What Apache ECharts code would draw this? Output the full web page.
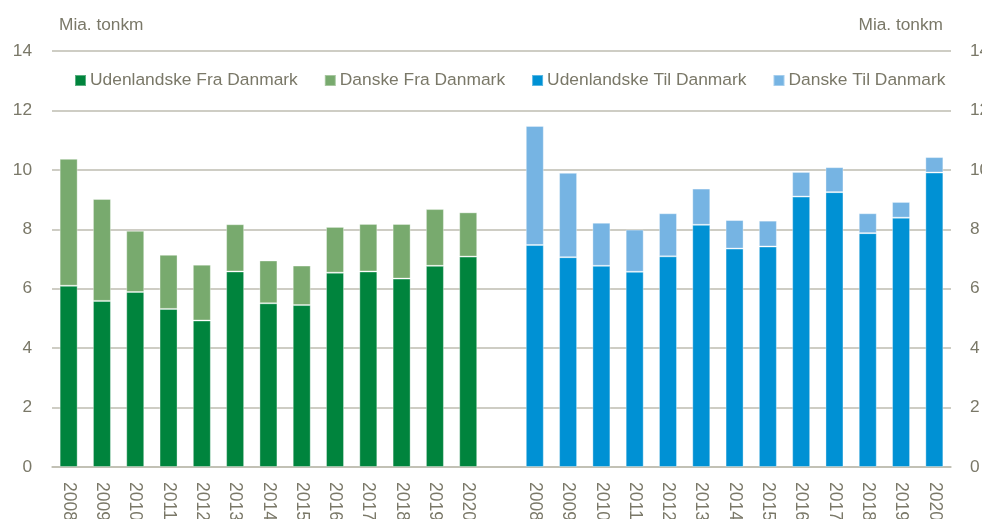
<!DOCTYPE html>
<html>
<head>
<meta charset="utf-8">
<script src="https://cdn.jsdelivr.net/npm/echarts@6/dist/echarts.min.js"></script>
<style>html,body{margin:0;padding:0;background:#fff;}#c{width:982px;height:519px;}</style>
</head>
<body>
<div id="c"></div>
<script>
const years = ['2008','2009','2010','2011','2012','2013','2014','2015','2016','2017','2018','2019','2020'];
// Fra Danmark (green)
const udenlandskeFra = [6.10, 5.59, 5.89, 5.32, 4.93, 6.58, 5.51, 5.45, 6.54, 6.58, 6.34, 6.77, 7.08];
const danskeFra      = [4.27, 3.43, 2.06, 1.82, 1.88, 1.59, 1.44, 1.33, 1.54, 1.60, 1.84, 1.91, 1.49];
// Til Danmark (blue)
const udenlandskeTil = [7.47, 7.06, 6.77, 6.57, 7.09, 8.15, 7.35, 7.42, 9.10, 9.25, 7.87, 8.39, 9.91];
const danskeTil      = [4.01, 2.84, 1.45, 1.42, 1.45, 1.22, 0.96, 0.87, 0.83, 0.84, 0.67, 0.53, 0.52];
const yTicks = [0, 2, 4, 6, 8, 10, 12, 14];
const unitLabel = 'Mia. tonkm';

const categories = years.concat([''], years);
const blank = years.map(() => '-');
const leftPart = arr => arr.concat(['-'], blank);
const rightPart = arr => blank.concat(['-'], arr);

const textColor = '#7a7868';
const gridColor = '#bebdb0';
const font = 'Liberation Sans, Arial, sans-serif';

const chart = echarts.init(document.getElementById('c'), null, {renderer: 'canvas'});
const barStyle = c => ({color: c, borderColor: 'rgba(255,255,255,0.35)', borderWidth: 1});
chart.setOption({
  animation: false,
  backgroundColor: '#fff',
  textStyle: {fontFamily: font},
  grid: {left: 52, right: 31, top: 51, bottom: 52, containLabel: false, outerBoundsMode: 'none'},
  legend: {
    left: 74, top: 72, padding: 0, itemWidth: 11, itemHeight: 11, itemGap: 26,
    icon: 'rect',
    textStyle: {color: textColor, fontSize: 17.4, fontFamily: font, padding: [0, 0, 0, -1]},
    data: ['Udenlandske Fra Danmark', 'Danske Fra Danmark', 'Udenlandske Til Danmark', 'Danske Til Danmark']
  },
  graphic: [
    {type: 'text', left: 59, top: 17, style: {text: unitLabel, fill: textColor, font: '17.3px ' + font}},
    {type: 'text', right: 39, top: 17, style: {text: unitLabel, fill: textColor, font: '17.3px ' + font}}
  ],
  xAxis: {
    type: 'category', data: categories,
    axisLine: {lineStyle: {color: gridColor, width: 1.5}},
    axisTick: {show: false},
    axisLabel: {rotate: -90, interval: 0, color: textColor, fontSize: 17.5, margin: 15, fontFamily: font}
  },
  yAxis: [
    {type: 'value', min: yTicks[0], max: yTicks[yTicks.length - 1], interval: 2,
     axisLine: {show: false}, axisTick: {show: false},
     splitLine: {lineStyle: {color: gridColor, width: 1.5}},
     axisLabel: {color: textColor, fontSize: 17.3, margin: 20, fontFamily: font}},
    {type: 'value', position: 'right', min: yTicks[0], max: yTicks[yTicks.length - 1], interval: 2,
     axisLine: {show: false}, axisTick: {show: false}, splitLine: {show: false},
     axisLabel: {color: textColor, fontSize: 17.3, margin: 19, fontFamily: font}}
  ],
  series: [
    {name: 'Udenlandske Fra Danmark', type: 'bar', stack: 'all', barWidth: 18, data: leftPart(udenlandskeFra), itemStyle: barStyle('#00843d')},
    {name: 'Danske Fra Danmark', type: 'bar', stack: 'all', barWidth: 18, data: leftPart(danskeFra), itemStyle: barStyle('#78aa6e')},
    {name: 'Udenlandske Til Danmark', type: 'bar', stack: 'all', barWidth: 18, data: rightPart(udenlandskeTil), itemStyle: barStyle('#0091d4')},
    {name: 'Danske Til Danmark', type: 'bar', stack: 'all', barWidth: 18, data: rightPart(danskeTil), itemStyle: barStyle('#76b4e3')}
  ]
});
</script>
</body>
</html>
